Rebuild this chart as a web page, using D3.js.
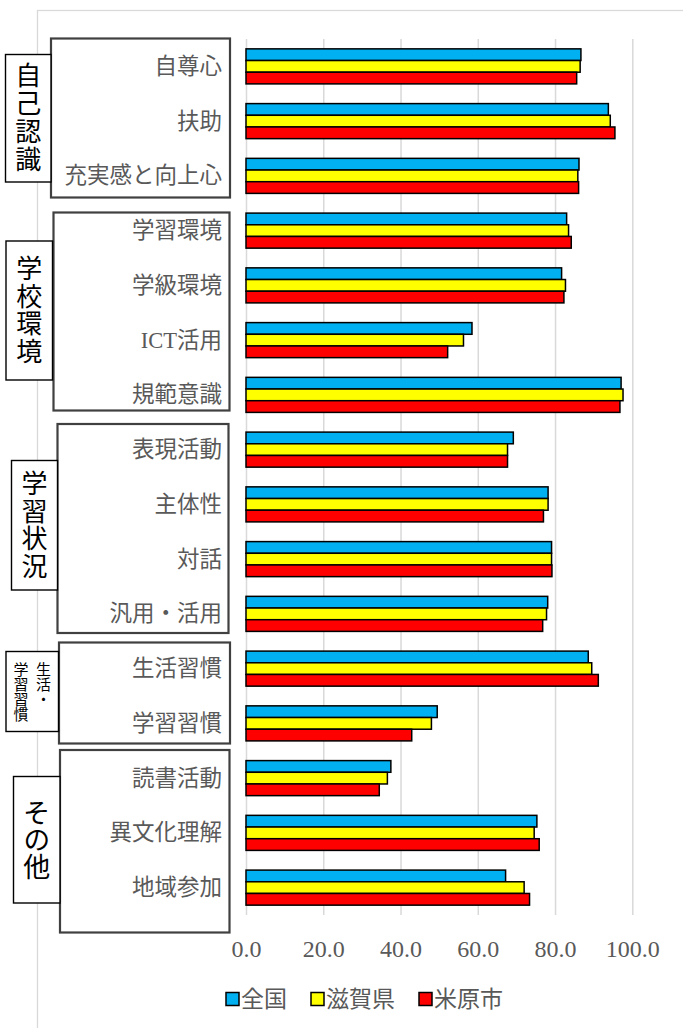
<!DOCTYPE html>
<html lang="ja">
<head>
<meta charset="utf-8">
<script src="https://cdn.jsdelivr.net/npm/d3@7"></script>
<style>
  html, body { margin: 0; padding: 0; background: #fff; }
  svg { display: block; }
</style>
</head>
<body>
<svg id="chart" width="683" height="1028"></svg>
<script>
// ---- data ----
const categories = [
  "自尊心", "扶助", "充実感と向上心",
  "学習環境", "学級環境", "ICT活用", "規範意識",
  "表現活動", "主体性", "対話", "汎用・活用",
  "生活習慣", "学習習慣",
  "読書活動", "異文化理解", "地域参加"
];
const seriesNames = ["全国", "滋賀県", "米原市"];
const zenkoku  = [86.7, 93.8, 86.2, 83.0, 81.7, 58.5, 97.1, 69.2, 78.2, 79.1, 78.1, 88.6, 49.5, 37.5, 75.3, 67.2];
const shiga    = [86.5, 94.3, 85.9, 83.5, 82.7, 56.3, 97.6, 67.7, 78.2, 79.1, 77.8, 89.5, 48.0, 36.6, 74.6, 72.0];
const maibara  = [85.6, 95.5, 86.1, 84.2, 82.3, 52.2, 96.8, 67.7, 77.0, 79.2, 76.8, 91.2, 42.9, 34.5, 75.9, 73.4];
const xTicks = [0, 20, 40, 60, 80, 100];
// group headings, each as columns of vertical text (right column first)
const groupNames = [
  ["自己認識"],
  ["学校環境"],
  ["学習状況"],
  ["生活・", "学習習慣"],
  ["その他"]
];

// ---- layout ----
const colors = ["#00b0f0", "#ffff00", "#ff0000"];
const plotTop = 39, plotBottom = 915;
const latin = "'Liberation Serif', 'Noto Sans CJK JP', serif";
const textGray = "#595959";
// bracket boxes around each group of categories, and the heading tabs
const catBoxes = [
  {x: 51, y: 38.5, w: 179, h: 159},
  {x: 53.5, y: 212.5, w: 176, h: 198},
  {x: 57.5, y: 424, w: 171, h: 209},
  {x: 59, y: 642.5, w: 171, h: 101},
  {x: 60, y: 750, w: 169.5, h: 182.5}
];
const headBoxes = [
  {x: 5.5, y: 54.5, w: 45.5, h: 127.5, size: 26, step: 28},
  {x: 6, y: 241, w: 46.5, h: 139, size: 26, step: 27.5},
  {x: 11.5, y: 460.5, w: 46, h: 129.5, size: 26, step: 27.5},
  {x: 6, y: 651.5, w: 52.5, h: 80, size: 15, step: 15},
  {x: 13.5, y: 776.5, w: 46.5, h: 126.5, size: 27, step: 27}
];

const rows = categories.map((c, i) => ({
  cat: c,
  values: [zenkoku[i], shiga[i], maibara[i]]
}));

const svg = d3.select("#chart");

// outer chart area frame
svg.append("rect")
  .attr("x", 37.5).attr("y", 10.5)
  .attr("width", 800).attr("height", 1200)
  .attr("fill", "none").attr("stroke", "#d9d9d9").attr("stroke-width", 1.3);

const x = d3.scaleLinear().domain([0, 100]).range([246, 632.3]);
const y0 = d3.scaleBand().domain(categories).range([plotTop, plotBottom])
  .paddingInner(0.36).paddingOuter(0.18);
const y1 = d3.scaleBand().domain(seriesNames).range([0, y0.bandwidth()]);

// gridlines + tick labels
const axis = d3.axisBottom(x)
  .tickValues(xTicks)
  .tickSize(-(plotBottom - plotTop))
  .tickPadding(25)
  .tickFormat(d3.format(".1f"));
const gx = svg.append("g")
  .attr("transform", `translate(0,${plotBottom})`)
  .call(axis);
gx.select(".domain").remove();
gx.selectAll(".tick line").attr("stroke", "#d9d9d9").attr("stroke-width", 1.5);
gx.selectAll(".tick text")
  .attr("fill", textGray)
  .style("font-family", latin)
  .style("font-size", "24px");

// bars
const groups = svg.append("g").selectAll("g")
  .data(rows).join("g")
  .attr("transform", d => `translate(0,${y0(d.cat)})`);
groups.selectAll("rect")
  .data(d => d.values.map((v, k) => ({name: seriesNames[k], v, k})))
  .join("rect")
  .attr("x", x(0))
  .attr("y", d => y1(d.name))
  .attr("width", d => x(d.v) - x(0))
  .attr("height", y1.bandwidth())
  .attr("fill", d => colors[d.k])
  .attr("stroke", "#000")
  .attr("stroke-width", 1.5);

// bracket boxes
svg.append("g").selectAll("rect")
  .data(catBoxes).join("rect")
  .attr("x", d => d.x).attr("y", d => d.y)
  .attr("width", d => d.w).attr("height", d => d.h)
  .attr("fill", "none").attr("stroke", "#404040").attr("stroke-width", 2.2);

// category labels
svg.append("g").selectAll("text")
  .data(categories).join("text")
  .attr("x", 222)
  .attr("y", d => y0(d) + y0.bandwidth() / 2)
  .attr("text-anchor", "end")
  .attr("dominant-baseline", "central")
  .attr("fill", textGray)
  .style("font-family", latin)
  .style("font-size", "22.5px")
  .text(d => d);

// group heading tabs with vertical text (one text per column)
headBoxes.forEach((b, i) => {
  const g = svg.append("g");
  g.append("rect")
    .attr("x", b.x).attr("y", b.y).attr("width", b.w).attr("height", b.h)
    .attr("fill", "#fff").attr("stroke", "#000").attr("stroke-width", 1.4);
  const cols = groupNames[i];
  const maxLen = d3.max(cols, c => c.length);
  const colGap = b.size * 1.5;
  const cx = b.x + b.w / 2;
  const top = b.y + b.h / 2 - (maxLen * b.step) / 2;
  cols.forEach((col, ci) => {
    const colX = cx + ((cols.length - 1) / 2 - ci) * colGap;
    g.append("text")
      .attr("x", colX)
      .attr("y", top)
      .style("writing-mode", "vertical-rl")
      .style("letter-spacing", (b.step - b.size) + "px")
      .attr("fill", "#000")
      .style("font-family", "'Noto Sans CJK JP', sans-serif")
      .style("font-size", b.size + "px")
      .text(col);
  });
});

// legend
const legend = svg.append("g").attr("transform", "translate(226,999)");
let lx = 0;
seriesNames.forEach((name, k) => {
  legend.append("rect")
    .attr("x", lx).attr("y", -6.5).attr("width", 13).attr("height", 13)
    .attr("fill", colors[k]).attr("stroke", "#000").attr("stroke-width", 1.5);
  const t = legend.append("text")
    .attr("x", lx + 15).attr("y", 0)
    .attr("dominant-baseline", "central")
    .attr("fill", textGray)
    .style("font-family", latin)
    .style("font-size", "23px")
    .text(name);
  lx += 15 + t.node().getComputedTextLength() + 24;
});
</script>
</body>
</html>
